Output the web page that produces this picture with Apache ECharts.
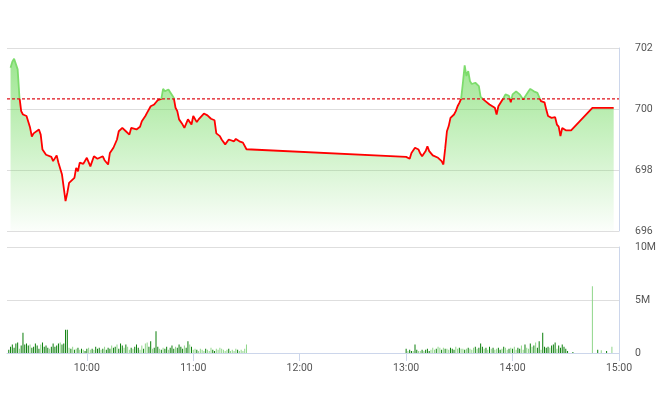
<!DOCTYPE html>
<html><head><meta charset="utf-8">
<script src="https://cdn.jsdelivr.net/npm/echarts@6/dist/echarts.min.js"></script>
<style>html,body{margin:0;padding:0;background:#fff}#c{width:660px;height:412px}</style>
</head><body><div id="c"></div>
<script>
// ---- data ----
const priceTimes = ['09:17','09:18','09:19','09:20','09:21','09:22','09:23','09:24','09:26','09:28','09:29','09:30','09:31','09:33','09:34','09:35','09:37','09:40','09:41','09:43','09:44','09:46','09:47','09:48','09:49','09:50','09:51','09:53','09:54','09:55','09:56','09:58','09:59','10:00','10:02','10:04','10:06','10:07','10:09','10:10','10:12','10:13','10:15','10:17','10:18','10:20','10:22','10:24','10:25','10:28','10:30','10:31','10:33','10:34','10:36','10:38','10:39','10:40','10:42','10:43','10:44','10:46','10:47','10:49','10:50','10:51','10:52','10:53','10:54','10:55','10:57','10:58','10:59','11:00','11:02','11:03','11:04','11:06','11:08','11:09','11:10','11:12','11:13','11:15','11:16','11:18','11:19','11:20','11:21','11:23','11:24','11:26','11:28','11:29','11:30',
'13:00','13:01','13:02','13:03','13:04','13:05','13:07','13:08','13:09','13:11','13:12','13:13','13:15','13:16','13:18','13:19','13:20','13:21','13:22','13:23','13:24','13:25','13:26','13:27','13:28','13:29','13:30','13:31','13:32','13:33','13:34','13:35','13:36','13:37','13:39','13:41','13:42','13:44','13:47','13:50','13:51','13:52','13:55','13:56','13:58','13:59','14:00','14:02','14:04','14:06','14:07','14:09','14:10','14:12','14:14','14:15','14:16','14:18','14:19','14:20','14:22','14:24','14:25','14:26','14:27','14:28','14:30','14:33','14:45','14:57'];
const priceValues = [701.35,701.55,701.65,701.62,701.3,700.4,699.93,699.82,699.77,699.39,699.1,699.2,699.23,699.33,699.16,698.67,698.5,698.43,698.29,698.48,698.24,697.85,697.8,696.98,697.25,697.58,697.52,697.74,698.07,697.96,698.24,698.2,698.18,698.4,698.12,698.45,698.37,698.32,698.45,698.32,698.18,698.56,698.73,699.0,699.27,699.38,699.27,699.16,699.38,699.33,699.42,699.6,699.77,699.88,700.09,700.15,700.22,700.29,700.33,700.66,700.58,700.64,700.7,700.37,700.04,699.93,699.66,699.71,699.49,699.38,699.66,699.6,699.49,699.77,699.57,699.66,699.64,699.85,699.79,699.85,699.68,699.63,699.2,699.11,699.0,698.84,698.89,699.0,699.06,698.94,699.02,698.94,698.9,698.9,698.68,
698.43,698.48,698.37,698.56,698.62,698.73,698.67,698.54,698.45,698.62,698.78,698.62,698.48,698.48,698.4,698.34,698.29,698.18,698.7,699.27,699.44,699.71,699.77,699.82,699.93,700.09,700.2,700.33,700.86,701.43,701.08,701.24,700.91,700.82,700.86,700.75,700.4,700.29,700.15,700.04,699.82,700.09,700.37,700.48,700.43,700.22,700.48,700.58,700.48,700.31,700.33,700.58,700.66,700.58,700.53,700.55,700.26,700.22,699.98,699.77,699.71,699.73,699.49,699.42,699.11,699.38,699.3,699.3,700.04,700.04];
const refPrice = 700.33;

// volume in millions, one bar per minute
const volAMStart = '09:16';
const volAM = [0.3,0.6,0.8,0.5,0.9,1.0,0.4,0.7,1.9,0.8,
0.9,0.7,0.8,0.5,0.6,0.9,0.7,0.4,0.8,1.0,
0.6,0.7,0.5,0.4,0.6,0.9,0.6,0.7,0.9,1.0,
0.8,0.9,2.2,2.2,0.5,0.4,0.6,0.3,0.4,0.5,
0.3,0.4,0.3,0.2,0.4,0.5,0.3,0.4,0.3,0.6,
0.4,0.5,0.3,0.4,0.6,0.3,0.5,0.4,0.7,0.5,
0.6,0.8,0.4,0.9,0.7,0.5,0.8,0.6,0.3,0.5,
0.4,0.6,0.8,0.5,0.3,0.7,0.4,0.9,1.0,0.6,
1.1,0.4,0.5,2.05,0.6,0.4,0.3,0.5,0.4,0.6,
0.3,0.5,0.7,0.4,0.6,0.5,0.8,0.6,0.4,0.7,
0.5,1.1,0.8,0.6,0.3,0.4,0.3,0.2,0.4,0.3,
0.2,0.4,0.3,0.2,0.5,0.3,0.2,0.4,0.3,0.5,
0.4,0.3,0.2,0.3,0.4,0.2,0.3,0.2,0.4,0.3,
0.2,0.3,0.2,0.4,0.8];
const sideAM = 'ddddddldddddldddddlddddldddddlddddldldldldlddlldldddldldddlddldddldlldldddlldllddldddldlddldddlddddlddldlldlllldllldd' + 'llllllldlllldllll' + 'lldld';
const volPMStart = '13:00';
const volPM = [0.4,0.2,0.3,0.2,0.2,0.8,0.3,0.2,0.2,0.3,
0.2,0.3,0.4,0.2,0.3,0.5,0.3,0.4,0.6,0.5,
0.3,0.5,0.4,0.4,0.3,0.5,0.4,0.3,0.6,0.4,
0.5,0.4,0.4,0.3,0.4,0.5,0.4,0.3,0.5,0.6,
0.4,0.5,0.9,0.6,0.4,0.5,0.3,0.6,0.4,0.5,
0.3,0.4,0.5,0.3,0.4,0.6,0.5,0.3,0.4,0.5,
0.4,0.6,0.3,0.5,0.4,0.7,0.3,0.8,0.5,0.4,
0.9,0.6,0.7,1.0,0.5,1.1,0.3,1.9,0.6,0.5,
0.6,0.5,0.7,0.8,1.0,0.4,0.7,0.5,0.8,0.6,
0.4,0.2];
const sidePM = 'dlddlddlldldddllldlldldlldddlldlldldllldldddldldldllddldlldldllddlldlldldlddlddddldddlddddd';
const volLateTimes = ['14:34','14:45','14:48','14:50','14:53','14:56'];
const volLate = [0.1,6.3,0.3,0.25,0.2,0.6];
const sideLate = 'dldldl';

const timeTicks = ['10:00','11:00','12:00','13:00','14:00','15:00'];
const priceTicks = [696,698,700,702];
const volTicks = [0,5,10];

// ---- build ----
function toMin(s){const p=s.split(':');return (+p[0])*60+(+p[1]);}
function fmt(v){const h=Math.floor(v/60),m=Math.round(v%60);return (h<10?'0':'')+h+':'+(m<10?'0':'')+m;}
const DARK='#0b7f0b', LIGHT='#8fd68a';
const UPLINE='#7ddc6c', DOWNLINE='#ff0000';
const priceData = priceTimes.map((t,i)=>[toMin(t),priceValues[i]]);
const volData = [];
function pushVol(start, arr, sides){
  const s=toMin(start);
  arr.forEach((v,i)=>volData.push({value:[s+i,v*1e6],itemStyle:{color:sides[i]==='l'?LIGHT:DARK}}));
}
pushVol(volAMStart, volAM, sideAM);
pushVol(volPMStart, volPM, sidePM);
volLateTimes.forEach((t,i)=>volData.push({value:[toMin(t),volLate[i]*1e6],itemStyle:{color:sideLate[i]==='l'?LIGHT:DARK}}));

const tickVals = timeTicks.map(toMin);
const xMin = toMin('09:15'), xMax = toMin('15:00');
const labelStyle = {color:'#555',fontSize:10.5,fontFamily:'Roboto, "Open Sans", sans-serif'};
const chart = echarts.init(document.getElementById('c'),null,{renderer:'canvas'});
const option = {
  animation:false,
  backgroundColor:'#fff',
  grid:[{left:7,right:41,top:48,height:183},{left:7,right:41,top:247,height:106}],
  xAxis:[
    {type:'value',gridIndex:0,min:xMin,max:xMax,axisLine:{show:false},axisTick:{show:false},axisLabel:{show:false},splitLine:{show:false}},
    {type:'value',gridIndex:1,min:xMin,max:xMax,
     axisLine:{show:true,lineStyle:{color:'#ccd6eb',width:1}},
     axisTick:{show:true,customValues:tickVals,length:8,lineStyle:{color:'#ccd6eb'}},
     axisLabel:Object.assign({customValues:tickVals,formatter:fmt,margin:10},labelStyle),
     splitLine:{show:false}}
  ],
  yAxis:[
    {type:'value',gridIndex:0,position:'right',min:priceTicks[0],max:priceTicks[priceTicks.length-1],interval:priceTicks[1]-priceTicks[0],
     axisLine:{show:true,lineStyle:{color:'#ccd6eb'}},axisTick:{show:false},
     axisLabel:Object.assign({margin:16},labelStyle),
     splitLine:{show:true,lineStyle:{color:'#dedede',width:1}}},
    {type:'value',gridIndex:1,position:'right',min:volTicks[0]*1e6,max:volTicks[volTicks.length-1]*1e6,interval:(volTicks[1]-volTicks[0])*1e6,
     axisLine:{show:true,lineStyle:{color:'#ccd6eb'}},axisTick:{show:false},
     axisLabel:Object.assign({margin:16,formatter:v=>v===0?'0':(v/1e6)+'M'},labelStyle),
     splitLine:{show:true,lineStyle:{color:'#dedede',width:1}}}
  ],
  series:[
    {type:'line',xAxisIndex:0,yAxisIndex:0,data:priceData,showSymbol:false,symbol:'none',
     lineStyle:{width:1.8,color:DOWNLINE},
     areaStyle:{origin:'start',color:new echarts.graphic.LinearGradient(0,0,0,1,[
       {offset:0,color:'rgba(100,215,80,0.9)'},{offset:1,color:'rgba(100,215,80,0.03)'}])},
     z:2},
    {type:'line',xAxisIndex:0,yAxisIndex:0,data:[[xMin,refPrice],[xMax,refPrice]],showSymbol:false,symbol:'none',
     lineStyle:{color:'#e0101a',type:[3,2],width:1.2},silent:true,z:3},
    {type:'bar',xAxisIndex:1,yAxisIndex:1,data:volData,barWidth:1}
  ]
};
chart.setOption(option);
// split the line colour at the reference price (green above, red below)
const refY = chart.convertToPixel({yAxisIndex:0}, refPrice);
const H = 412, f = refY / H;
chart.setOption({series:[{lineStyle:{width:1.8,color:new echarts.graphic.LinearGradient(0,0,0,H,[
  {offset:0,color:UPLINE},{offset:f,color:UPLINE},{offset:f,color:DOWNLINE},{offset:1,color:DOWNLINE}],true)}}]});
</script></body></html>
